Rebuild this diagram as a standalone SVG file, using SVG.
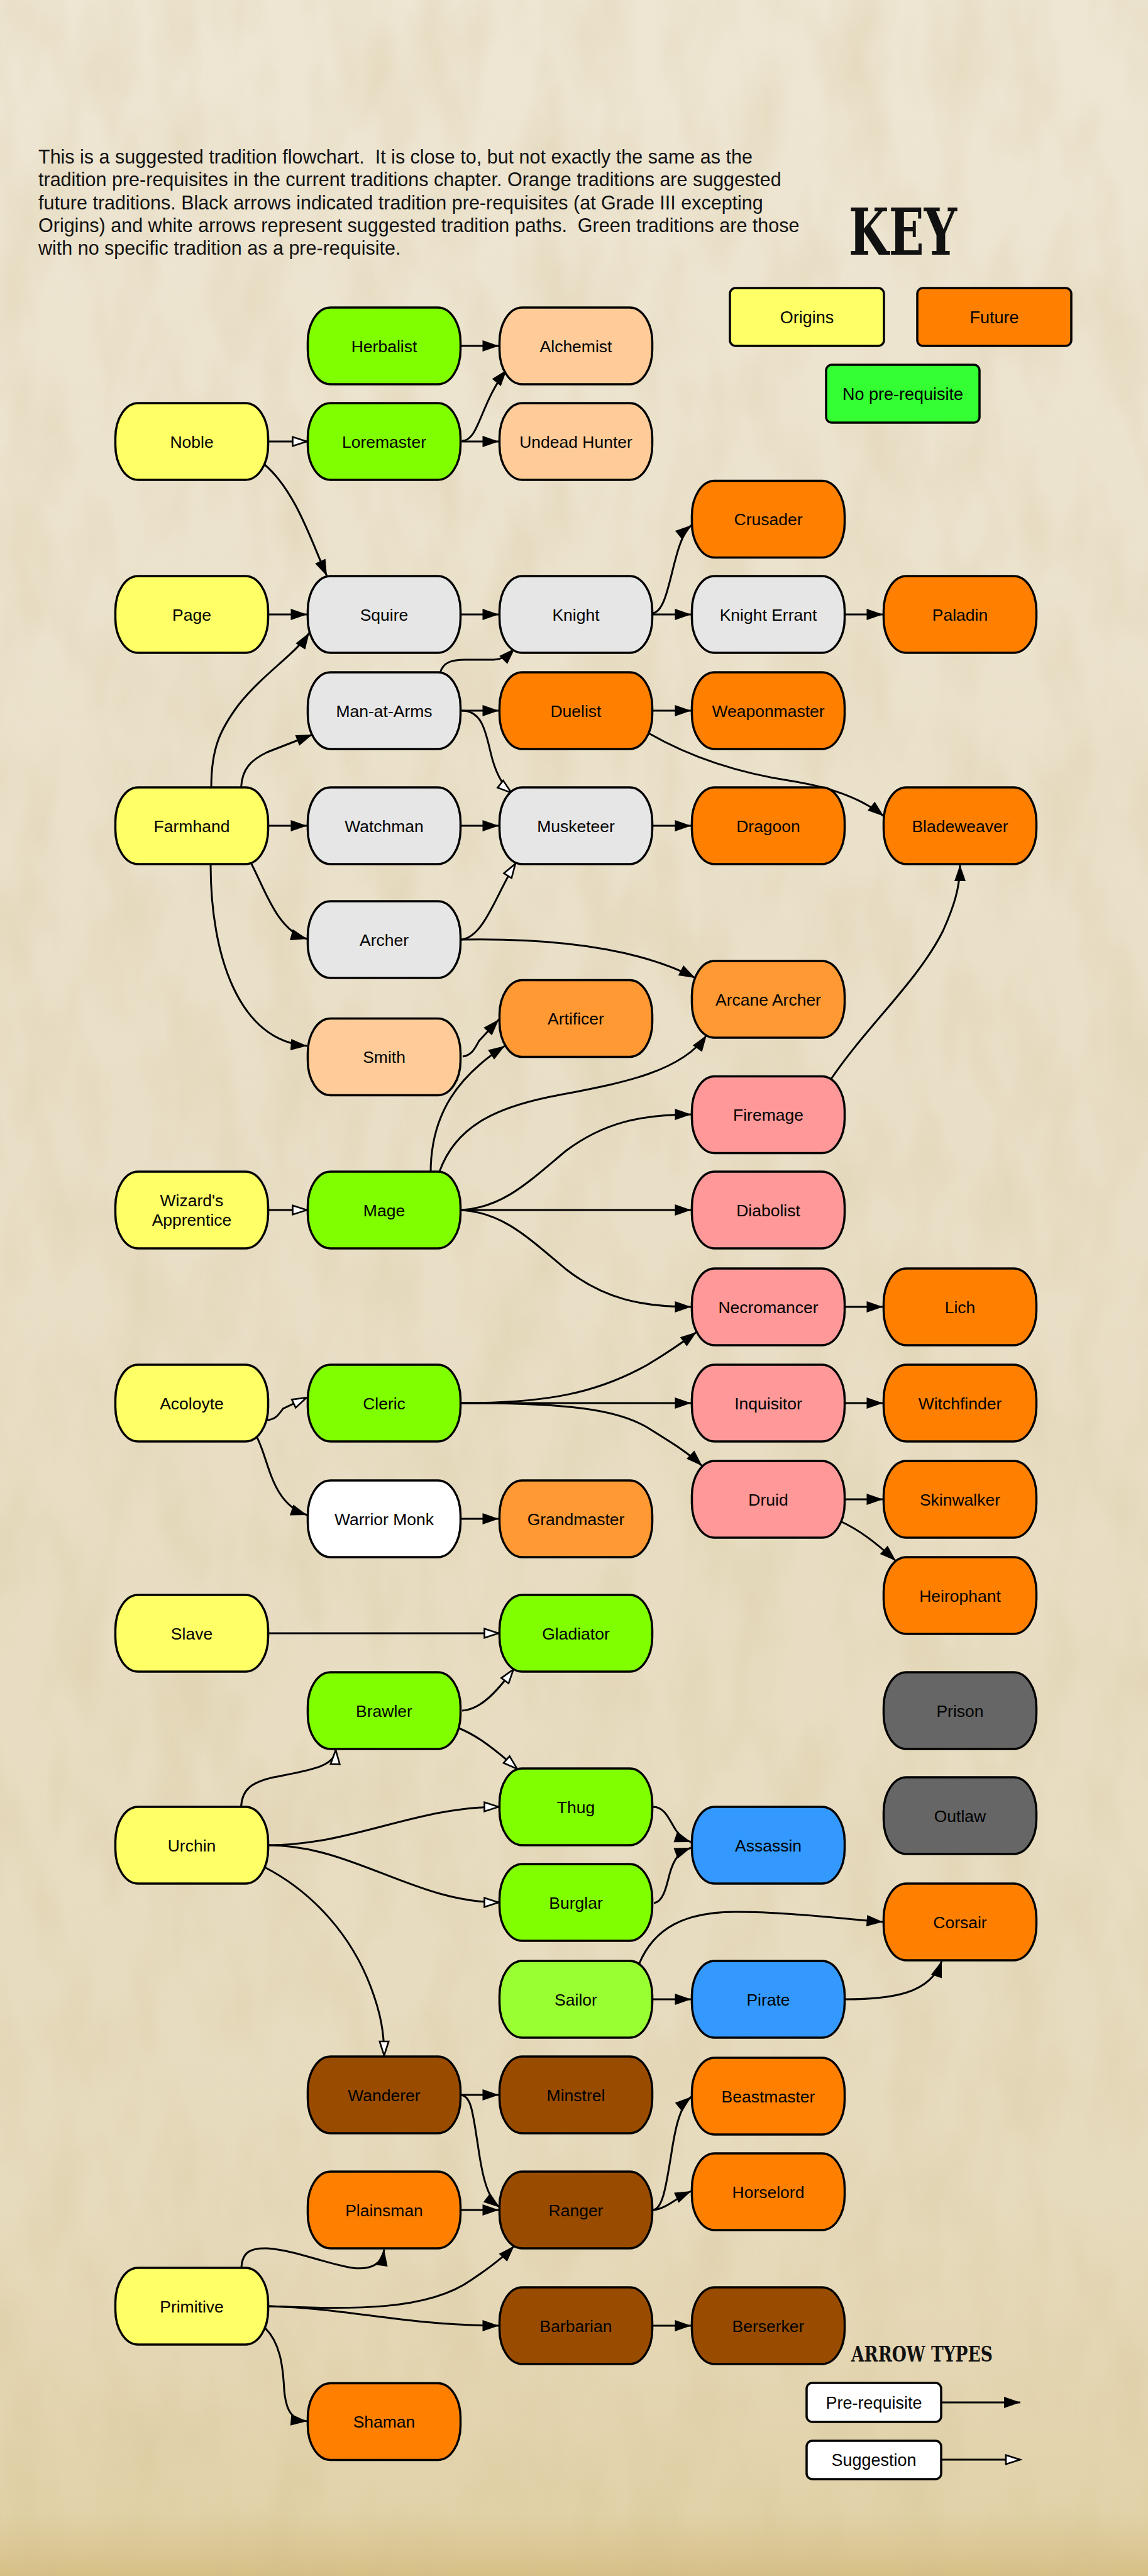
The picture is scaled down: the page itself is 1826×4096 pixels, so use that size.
<svg xmlns="http://www.w3.org/2000/svg" width="1826" height="4096" viewBox="0 0 1826 4096">
<defs>
<linearGradient id="bg" x1="0" y1="0" x2="0" y2="1">
<stop offset="0" stop-color="#eee6d3"/>
<stop offset="0.45" stop-color="#e9dfc7"/>
<stop offset="0.85" stop-color="#e7dbbe"/>
<stop offset="0.975" stop-color="#e2d2a9"/>
<stop offset="1" stop-color="#d6c086"/>
</linearGradient>
<filter id="paper" x="0" y="0" width="100%" height="100%">
<feTurbulence type="fractalNoise" baseFrequency="0.012 0.005" numOctaves="3" seed="7"/>
<feColorMatrix type="matrix" values="0 0 0 0 0.62  0 0 0 0 0.5  0 0 0 0 0.26  1.4 0 0 0 -0.55"/>
</filter>
<marker id="ah" markerUnits="userSpaceOnUse" viewBox="0 0 26 18" markerWidth="26" markerHeight="18" refX="26" refY="9" orient="auto" overflow="visible">
<path d="M0,0 L26,9 L0,18 z" fill="#000"/>
</marker>
<marker id="aw" markerUnits="userSpaceOnUse" viewBox="0 0 26 18" markerWidth="26" markerHeight="18" refX="24.5" refY="9" orient="auto" overflow="visible">
<path d="M1.5,1.8 L24,9 L1.5,16.2 z" fill="#fff" stroke="#000" stroke-width="2.6" stroke-linejoin="miter"/>
</marker>
<style>
.node rect{stroke:#000;stroke-width:3.5}
.node text,.keybox text{font-family:"Liberation Sans",Arial,sans-serif;font-size:26.5px;text-anchor:middle;fill:#000}
.yellow{fill:#ffff66}.lime{fill:#80ff00}.peach{fill:#ffcc99}.grey{fill:#e6e6e6}.orange{fill:#ff8000}
.lorange{fill:#ff9933}.pink{fill:#ff9999}.white{fill:#ffffff}.dgrey{fill:#666666}.blue{fill:#3399ff}
.lgreen{fill:#99ff33}.brown{fill:#994c00}.kgreen{fill:#33ff33}
.edge{fill:none;stroke:#000;stroke-width:3}
.pre{marker-end:url(#ah)}
.sug{marker-end:url(#aw)}
.para{font-family:"Liberation Sans",Arial,sans-serif;font-size:30.5px;fill:#111;white-space:pre}
.title{font-family:"DejaVu Serif","Liberation Serif",serif;font-weight:bold;fill:#111}
.keybox rect{stroke:#000;stroke-width:3.5}
</style>
</defs>

<g id="background">
<rect x="0" y="0" width="1826" height="4096" fill="url(#bg)"/>
<rect x="0" y="0" width="1826" height="4096" filter="url(#paper)" opacity="0.35"/>
</g>

<g id="intro">
<text class="para" x="61" y="260" xml:space="preserve">This is a suggested tradition flowchart.  It is close to, but not exactly the same as the</text>
<text class="para" x="61" y="296.3">tradition pre-requisites in the current traditions chapter. Orange traditions are suggested</text>
<text class="para" x="61" y="332.6">future traditions. Black arrows indicated tradition pre-requisites (at Grade III excepting</text>
<text class="para" x="61" y="368.9" xml:space="preserve">Origins) and white arrows represent suggested tradition paths.  Green traditions are those</text>
<text class="para" x="61" y="405.2">with no specific tradition as a pre-requisite.</text>
</g>

<g id="key">
<text class="title" x="1350" y="405" font-size="103" textLength="172" lengthAdjust="spacingAndGlyphs">KEY</text>
<g class="keybox" id="key-origins"><rect class="yellow" x="1161" y="458" width="245" height="92" rx="9"/><text x="1283.5" y="513.5" style="font-size:27px">Origins</text></g>
<g class="keybox" id="key-future"><rect class="orange" x="1459" y="458" width="245" height="92" rx="9"/><text x="1581.5" y="513.5" style="font-size:27px">Future</text></g>
<g class="keybox" id="key-noprereq"><rect class="kgreen" x="1314" y="580" width="244" height="92" rx="9"/><text x="1436" y="635.5" style="font-size:27px">No pre-requisite</text></g>
</g>

<g id="connectors">
<path class="edge pre" d="M732.5,550 L793.5,550"/>
<path class="edge pre" d="M735,701 C762,701 764,640 806,588"/>
<path class="edge pre" d="M732.5,702 L793.5,702"/>
<path class="edge sug" d="M426.5,702 L488.5,702"/>
<path class="edge pre" d="M420,738 C470,780 495,860 520,916"/>
<path class="edge pre" d="M426.5,977 L488.5,977"/>
<path class="edge pre" d="M732.5,977 L793.5,977"/>
<path class="edge pre" d="M1038,975 C1068,972 1068,860 1100,835"/>
<path class="edge pre" d="M1038,977 L1099.5,977"/>
<path class="edge pre" d="M1343.5,977 L1404.5,977"/>
<path class="edge pre" d="M700,1070 C705,1052 720,1049 740,1049 L785,1049 C800,1048 808,1042 819,1031"/>
<path class="edge pre" d="M732.5,1130 L793.5,1130"/>
<path class="edge sug" d="M735,1130 C765,1130 772,1160 780,1195 S800,1250 814,1261"/>
<path class="edge pre" d="M1038,1130 L1099.5,1130"/>
<path class="edge pre" d="M1032,1166 C1100,1205 1180,1230 1260,1242 C1330,1253 1375,1273 1406,1298"/>
<path class="edge pre" d="M336,1252 C336,1190 350,1160 380,1120 C420,1070 470,1040 492,1006"/>
<path class="edge pre" d="M383.5,1252 C385,1222 400,1208 425,1196 L497,1168"/>
<path class="edge pre" d="M426.5,1313 L488.5,1313"/>
<path class="edge pre" d="M398,1370 C420,1410 440,1480 488.5,1493"/>
<path class="edge pre" d="M335,1374 C335,1520 380,1655 488.5,1663"/>
<path class="edge pre" d="M732.5,1313 L793.5,1313"/>
<path class="edge sug" d="M734,1494 C770,1490 790,1420 820,1373"/>
<path class="edge pre" d="M734,1494 C850,1492 1000,1500 1106,1555"/>
<path class="edge pre" d="M1038,1313 L1099.5,1313"/>
<path class="edge pre" d="M736,1680 C750,1678 755,1668 762,1655 L793.5,1621"/>
<path class="edge pre" d="M685,1865 C685,1770 730,1710 803,1663"/>
<path class="edge pre" d="M699,1863 C725,1790 790,1762 870,1745 C970,1725 1080,1710 1124,1646"/>
<path class="edge pre" d="M734,1924 C800,1920 840,1880 900,1830 C960,1785 1020,1772 1099.5,1772"/>
<path class="edge pre" d="M732.5,1924 L1099.5,1924"/>
<path class="edge pre" d="M734,1924 C800,1928 840,1968 900,2018 C960,2065 1020,2078 1099.5,2078"/>
<path class="edge pre" d="M1321,1717 C1380,1630 1460,1560 1500,1480 C1518,1440 1527,1410 1527,1375"/>
<path class="edge sug" d="M426.5,1924 L488.5,1924"/>
<path class="edge pre" d="M1343.5,2078 L1404.5,2078"/>
<path class="edge sug" d="M425,2258 C438,2257 443,2250 450,2240 L488,2222"/>
<path class="edge pre" d="M408,2284 C428,2320 430,2390 488.5,2409"/>
<path class="edge pre" d="M733,2231 C870,2231 950,2215 1030,2170 C1060,2152 1085,2135 1108,2118"/>
<path class="edge pre" d="M732.5,2231 L1099.5,2231"/>
<path class="edge pre" d="M733,2231 C900,2231 980,2240 1030,2270 C1070,2295 1095,2310 1117,2331"/>
<path class="edge pre" d="M1343.5,2231 L1404.5,2231"/>
<path class="edge pre" d="M1343.5,2384 L1404.5,2384"/>
<path class="edge pre" d="M1337,2419 C1365,2432 1390,2450 1425,2482"/>
<path class="edge pre" d="M732.5,2415 L793.5,2415"/>
<path class="edge sug" d="M426.5,2597 L793.5,2597"/>
<path class="edge sug" d="M735,2720 C765,2718 790,2690 817,2654"/>
<path class="edge sug" d="M730,2748 C755,2758 780,2775 823,2813"/>
<path class="edge sug" d="M383.5,2873 C385,2845 400,2834 435,2826 C490,2815 533,2810 534,2782"/>
<path class="edge sug" d="M427,2934 C560,2934 660,2873 793.5,2873"/>
<path class="edge sug" d="M427,2934 C560,2934 660,3025 793.5,3025"/>
<path class="edge sug" d="M421,2969 C500,3010 560,3080 590,3160 C605,3200 611,3230 611,3269"/>
<path class="edge pre" d="M1039,2873 C1058,2873 1065,2895 1075,2910 C1082,2920 1090,2926 1099,2929"/>
<path class="edge pre" d="M1040,3026 C1055,3024 1060,3000 1065,2980 C1072,2955 1080,2945 1099,2938"/>
<path class="edge pre" d="M1016,3124 C1040,3065 1090,3040 1170,3040 C1250,3040 1330,3050 1404.5,3056"/>
<path class="edge pre" d="M1038,3179 L1099.5,3179"/>
<path class="edge pre" d="M1343.5,3179 C1420,3179 1480,3170 1498,3118"/>
<path class="edge pre" d="M732.5,3331 L793.5,3331"/>
<path class="edge pre" d="M733,3331 C750,3333 752,3360 760,3410 C767,3460 775,3495 795,3510"/>
<path class="edge pre" d="M1039,3514 C1055,3512 1060,3470 1067,3430 C1073,3390 1080,3350 1099.5,3334"/>
<path class="edge pre" d="M1039,3514 C1060,3512 1075,3495 1099.5,3484"/>
<path class="edge pre" d="M732.5,3514 L793.5,3514"/>
<path class="edge pre" d="M384,3606 C385,3580 400,3574 425,3575 C470,3578 520,3600 560,3606 C590,3610 608,3600 611,3577"/>
<path class="edge pre" d="M428,3667 C560,3672 680,3675 750,3625 C780,3605 800,3590 818,3571"/>
<path class="edge pre" d="M428,3667 C550,3670 650,3698 793.5,3698"/>
<path class="edge pre" d="M422,3702 C445,3725 450,3760 452,3800 C455,3835 465,3848 488.5,3850"/>
<path class="edge pre" d="M1038,3698 L1099.5,3698"/>
</g>

<g id="nodes">
<g class="node" id="herbalist"><rect class="lime" x="489.5" y="489" width="243" height="122" rx="36" ry="55"/><text x="611" y="559.5">Herbalist</text></g>
<g class="node" id="alchemist"><rect class="peach" x="794.5" y="489" width="243" height="122" rx="36" ry="55"/><text x="916" y="559.5">Alchemist</text></g>
<g class="node" id="noble"><rect class="yellow" x="183.5" y="641" width="243" height="122" rx="36" ry="55"/><text x="305" y="711.5">Noble</text></g>
<g class="node" id="loremaster"><rect class="lime" x="489.5" y="641" width="243" height="122" rx="36" ry="55"/><text x="611" y="711.5">Loremaster</text></g>
<g class="node" id="undead-hunter"><rect class="peach" x="794.5" y="641" width="243" height="122" rx="36" ry="55"/><text x="916" y="711.5">Undead Hunter</text></g>
<g class="node" id="crusader"><rect class="orange" x="1100.5" y="764.5" width="243" height="122" rx="36" ry="55"/><text x="1222" y="835">Crusader</text></g>
<g class="node" id="page"><rect class="yellow" x="183.5" y="916" width="243" height="122" rx="36" ry="55"/><text x="305" y="986.5">Page</text></g>
<g class="node" id="squire"><rect class="grey" x="489.5" y="916" width="243" height="122" rx="36" ry="55"/><text x="611" y="986.5">Squire</text></g>
<g class="node" id="knight"><rect class="grey" x="794.5" y="916" width="243" height="122" rx="36" ry="55"/><text x="916" y="986.5">Knight</text></g>
<g class="node" id="knight-errant"><rect class="grey" x="1100.5" y="916" width="243" height="122" rx="36" ry="55"/><text x="1222" y="986.5">Knight Errant</text></g>
<g class="node" id="paladin"><rect class="orange" x="1405.5" y="916" width="243" height="122" rx="36" ry="55"/><text x="1527" y="986.5">Paladin</text></g>
<g class="node" id="man-at-arms"><rect class="grey" x="489.5" y="1069" width="243" height="122" rx="36" ry="55"/><text x="611" y="1139.5">Man-at-Arms</text></g>
<g class="node" id="duelist"><rect class="orange" x="794.5" y="1069" width="243" height="122" rx="36" ry="55"/><text x="916" y="1139.5">Duelist</text></g>
<g class="node" id="weaponmaster"><rect class="orange" x="1100.5" y="1069" width="243" height="122" rx="36" ry="55"/><text x="1222" y="1139.5">Weaponmaster</text></g>
<g class="node" id="farmhand"><rect class="yellow" x="183.5" y="1252" width="243" height="122" rx="36" ry="55"/><text x="305" y="1322.5">Farmhand</text></g>
<g class="node" id="watchman"><rect class="grey" x="489.5" y="1252" width="243" height="122" rx="36" ry="55"/><text x="611" y="1322.5">Watchman</text></g>
<g class="node" id="musketeer"><rect class="grey" x="794.5" y="1252" width="243" height="122" rx="36" ry="55"/><text x="916" y="1322.5">Musketeer</text></g>
<g class="node" id="dragoon"><rect class="orange" x="1100.5" y="1252" width="243" height="122" rx="36" ry="55"/><text x="1222" y="1322.5">Dragoon</text></g>
<g class="node" id="bladeweaver"><rect class="orange" x="1405.5" y="1252" width="243" height="122" rx="36" ry="55"/><text x="1527" y="1322.5">Bladeweaver</text></g>
<g class="node" id="archer"><rect class="grey" x="489.5" y="1433" width="243" height="122" rx="36" ry="55"/><text x="611" y="1503.5">Archer</text></g>
<g class="node" id="arcane-archer"><rect class="lorange" x="1100.5" y="1528" width="243" height="122" rx="36" ry="55"/><text x="1222" y="1598.5">Arcane Archer</text></g>
<g class="node" id="artificer"><rect class="lorange" x="794.5" y="1558.6" width="243" height="122" rx="36" ry="55"/><text x="916" y="1629">Artificer</text></g>
<g class="node" id="smith"><rect class="peach" x="489.5" y="1619.5" width="243" height="122" rx="36" ry="55"/><text x="611" y="1690">Smith</text></g>
<g class="node" id="firemage"><rect class="pink" x="1100.5" y="1711.5" width="243" height="122" rx="36" ry="55"/><text x="1222" y="1782">Firemage</text></g>
<g class="node" id="wizards-apprentice"><rect class="yellow" x="183.5" y="1863" width="243" height="122" rx="36" ry="55"/><text x="305" y="1918">Wizard's</text><text x="305" y="1949">Apprentice</text></g>
<g class="node" id="mage"><rect class="lime" x="489.5" y="1863" width="243" height="122" rx="36" ry="55"/><text x="611" y="1933.5">Mage</text></g>
<g class="node" id="diabolist"><rect class="pink" x="1100.5" y="1863" width="243" height="122" rx="36" ry="55"/><text x="1222" y="1933.5">Diabolist</text></g>
<g class="node" id="necromancer"><rect class="pink" x="1100.5" y="2017" width="243" height="122" rx="36" ry="55"/><text x="1222" y="2087.5">Necromancer</text></g>
<g class="node" id="lich"><rect class="orange" x="1405.5" y="2017" width="243" height="122" rx="36" ry="55"/><text x="1527" y="2087.5">Lich</text></g>
<g class="node" id="acoloyte"><rect class="yellow" x="183.5" y="2170" width="243" height="122" rx="36" ry="55"/><text x="305" y="2240.5">Acoloyte</text></g>
<g class="node" id="cleric"><rect class="lime" x="489.5" y="2170" width="243" height="122" rx="36" ry="55"/><text x="611" y="2240.5">Cleric</text></g>
<g class="node" id="inquisitor"><rect class="pink" x="1100.5" y="2170" width="243" height="122" rx="36" ry="55"/><text x="1222" y="2240.5">Inquisitor</text></g>
<g class="node" id="witchfinder"><rect class="orange" x="1405.5" y="2170" width="243" height="122" rx="36" ry="55"/><text x="1527" y="2240.5">Witchfinder</text></g>
<g class="node" id="druid"><rect class="pink" x="1100.5" y="2323" width="243" height="122" rx="36" ry="55"/><text x="1222" y="2393.5">Druid</text></g>
<g class="node" id="skinwalker"><rect class="orange" x="1405.5" y="2323" width="243" height="122" rx="36" ry="55"/><text x="1527" y="2393.5">Skinwalker</text></g>
<g class="node" id="warrior-monk"><rect class="white" x="489.5" y="2354" width="243" height="122" rx="36" ry="55"/><text x="611" y="2424.5">Warrior Monk</text></g>
<g class="node" id="grandmaster"><rect class="lorange" x="794.5" y="2354" width="243" height="122" rx="36" ry="55"/><text x="916" y="2424.5">Grandmaster</text></g>
<g class="node" id="heirophant"><rect class="orange" x="1405.5" y="2476" width="243" height="122" rx="36" ry="55"/><text x="1527" y="2546.5">Heirophant</text></g>
<g class="node" id="slave"><rect class="yellow" x="183.5" y="2536" width="243" height="122" rx="36" ry="55"/><text x="305" y="2606.5">Slave</text></g>
<g class="node" id="gladiator"><rect class="lime" x="794.5" y="2536" width="243" height="122" rx="36" ry="55"/><text x="916" y="2606.5">Gladiator</text></g>
<g class="node" id="brawler"><rect class="lime" x="489.5" y="2659" width="243" height="122" rx="36" ry="55"/><text x="611" y="2729.5">Brawler</text></g>
<g class="node" id="prison"><rect class="dgrey" x="1405.5" y="2659" width="243" height="122" rx="36" ry="55"/><text x="1527" y="2729.5">Prison</text></g>
<g class="node" id="thug"><rect class="lime" x="794.5" y="2812" width="243" height="122" rx="36" ry="55"/><text x="916" y="2882.5">Thug</text></g>
<g class="node" id="outlaw"><rect class="dgrey" x="1405.5" y="2826" width="243" height="122" rx="36" ry="55"/><text x="1527" y="2896.5">Outlaw</text></g>
<g class="node" id="urchin"><rect class="yellow" x="183.5" y="2873" width="243" height="122" rx="36" ry="55"/><text x="305" y="2943.5">Urchin</text></g>
<g class="node" id="assassin"><rect class="blue" x="1100.5" y="2873" width="243" height="122" rx="36" ry="55"/><text x="1222" y="2943.5">Assassin</text></g>
<g class="node" id="burglar"><rect class="lime" x="794.5" y="2964" width="243" height="122" rx="36" ry="55"/><text x="916" y="3034.5">Burglar</text></g>
<g class="node" id="corsair"><rect class="orange" x="1405.5" y="2995" width="243" height="122" rx="36" ry="55"/><text x="1527" y="3065.5">Corsair</text></g>
<g class="node" id="sailor"><rect class="lgreen" x="794.5" y="3118" width="243" height="122" rx="36" ry="55"/><text x="916" y="3188.5">Sailor</text></g>
<g class="node" id="pirate"><rect class="blue" x="1100.5" y="3118" width="243" height="122" rx="36" ry="55"/><text x="1222" y="3188.5">Pirate</text></g>
<g class="node" id="wanderer"><rect class="brown" x="489.5" y="3270" width="243" height="122" rx="36" ry="55"/><text x="611" y="3340.5">Wanderer</text></g>
<g class="node" id="minstrel"><rect class="brown" x="794.5" y="3270" width="243" height="122" rx="36" ry="55"/><text x="916" y="3340.5">Minstrel</text></g>
<g class="node" id="beastmaster"><rect class="orange" x="1100.5" y="3272" width="243" height="122" rx="36" ry="55"/><text x="1222" y="3342.5">Beastmaster</text></g>
<g class="node" id="horselord"><rect class="orange" x="1100.5" y="3424" width="243" height="122" rx="36" ry="55"/><text x="1222" y="3494.5">Horselord</text></g>
<g class="node" id="plainsman"><rect class="orange" x="489.5" y="3453" width="243" height="122" rx="36" ry="55"/><text x="611" y="3523.5">Plainsman</text></g>
<g class="node" id="ranger"><rect class="brown" x="794.5" y="3453" width="243" height="122" rx="36" ry="55"/><text x="916" y="3523.5">Ranger</text></g>
<g class="node" id="primitive"><rect class="yellow" x="183.5" y="3606" width="243" height="122" rx="36" ry="55"/><text x="305" y="3676.5">Primitive</text></g>
<g class="node" id="barbarian"><rect class="brown" x="794.5" y="3637" width="243" height="122" rx="36" ry="55"/><text x="916" y="3707.5">Barbarian</text></g>
<g class="node" id="berserker"><rect class="brown" x="1100.5" y="3637" width="243" height="122" rx="36" ry="55"/><text x="1222" y="3707.5">Berserker</text></g>
<g class="node" id="shaman"><rect class="orange" x="489.5" y="3789.5" width="243" height="122" rx="36" ry="55"/><text x="611" y="3860">Shaman</text></g>
</g>

<g id="arrow-types">
<text class="title" x="1354" y="3755" font-size="34" textLength="225" lengthAdjust="spacingAndGlyphs">ARROW TYPES</text>
<g class="keybox" id="legend-prereq"><rect class="white" x="1283" y="3789" width="214" height="62" rx="9"/><text x="1390" y="3829.5" style="font-size:27px">Pre-requisite</text></g>
<path class="edge pre" d="M1497,3820 L1623,3820"/>
<g class="keybox" id="legend-suggestion"><rect class="white" x="1283" y="3881" width="214" height="61" rx="9"/><text x="1390" y="3921" style="font-size:27px">Suggestion</text></g>
<path class="edge sug" d="M1497,3911 L1623,3911"/>
</g>
</svg>
